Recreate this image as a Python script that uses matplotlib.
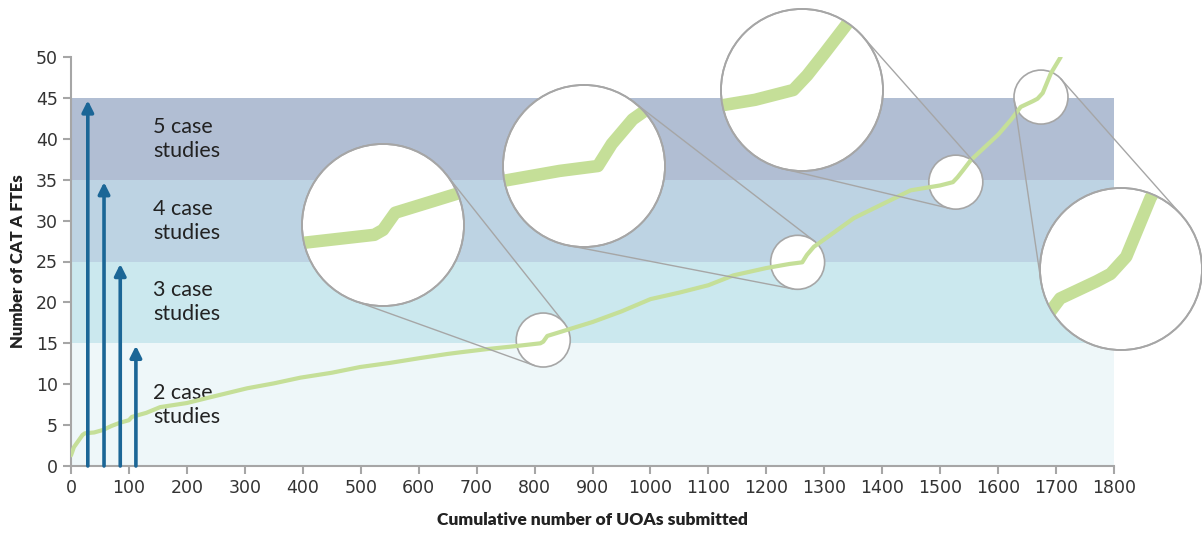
import numpy as np
import matplotlib.pyplot as plt
from matplotlib.patches import Circle, Ellipse

plt.rcParams['font.family'] = ['Lato', 'DejaVu Sans']

## the data
uoas = [0, 5, 12, 20, 24, 40, 55, 70, 85, 100, 105, 130, 154, 200, 240, 304, 350,
        396, 450, 499, 550, 603, 650, 672, 719, 760, 810, 815, 822, 845, 900, 950,
        1000, 1050, 1100, 1143, 1200, 1240, 1262, 1270, 1282, 1300, 1351, 1400,
        1449, 1500, 1522, 1530, 1540, 1553, 1600, 1622, 1639, 1660, 1668, 1677,
        1691, 1708]
ftes = [1.3, 2.3, 3.0, 3.8, 4.0, 4.1, 4.4, 4.9, 5.3, 5.6, 6.0, 6.5, 7.2, 7.7, 8.4,
        9.5, 10.1, 10.8, 11.4, 12.1, 12.6, 13.2, 13.7, 13.9, 14.3, 14.6, 15.0, 15.2,
        15.9, 16.4, 17.6, 18.9, 20.4, 21.2, 22.1, 23.3, 24.2, 24.7, 24.9, 25.8, 26.8,
        27.7, 30.3, 32.0, 33.7, 34.3, 34.7, 35.3, 36.2, 37.4, 40.5, 42.3, 43.9, 44.6,
        44.9, 45.6, 48.0, 50.0]

band_edges = [0, 15, 25, 35, 45]
band_labels = ['2 case\nstudies', '3 case\nstudies', '4 case\nstudies', '5 case\nstudies']
band_colors = ['#eef7f9', '#cbe8ee', '#bdd3e3', '#b1bed3']

arrow_x = [29, 57, 85, 112]
arrow_top = [44.7, 34.7, 24.7, 14.7]

# zoomed spots (data coords) and where the magnified view sits (figure pixels, from top)
zoom_spots = [(815, 15.4), (1254, 24.9), (1527, 34.7), (1674, 45.1)]
lens_pos = [(383, 225), (584, 166), (802, 90), (1121, 269)]
r_small, r_big = 27, 81

green = '#c5df98'
arrow_col = '#1b6696'
grey = '#a6a6a6'

W, H = 1202, 534
fig = plt.figure(figsize=(W / 100, H / 100), dpi=100)
ax = fig.add_axes([71 / W, (H - 466) / H, (1114 - 71) / W, (466 - 57) / H])

for i in range(4):
    ax.axhspan(band_edges[i], band_edges[i + 1], color=band_colors[i], lw=0, zorder=0)
    ax.text(142, (band_edges[i] + band_edges[i + 1]) / 2, band_labels[i],
            fontsize=15.5, color='#222222', va='center', ha='left', linespacing=1.25, zorder=1)

ax.set_xlim(0, 1800)
ax.set_ylim(0, 50)
ax.set_xticks(np.arange(0, 1801, 100))
ax.set_yticks(np.arange(0, 51, 5))
for s in ['top', 'right']:
    ax.spines[s].set_visible(False)
for s in ['left', 'bottom']:
    ax.spines[s].set_color(grey)
    ax.spines[s].set_linewidth(1.5)
ax.tick_params(colors=grey, labelcolor='#333333', labelsize=12.5, width=1.5, length=6)
for lab in ax.get_xticklabels() + ax.get_yticklabels():
    lab.set_family('DejaVu Sans')
ax.set_xlabel('Cumulative number of UOAs submitted', fontsize=12.5, fontweight='heavy',
              color='#222222', labelpad=11)
ax.set_ylabel('Number of CAT A FTEs', fontsize=12, fontweight='heavy', color='#222222',
              labelpad=7)

for xa, ya in zip(arrow_x, arrow_top):
    ax.annotate('', xy=(xa, ya), xytext=(xa, 0),
                arrowprops=dict(arrowstyle='-|>', color=arrow_col, lw=2.6,
                                mutation_scale=17, shrinkA=0, shrinkB=0), zorder=4)

ax.plot(uoas, ftes, color=green, lw=3, zorder=3, solid_capstyle='round')

# small lens circles in data coords (ellipse so they look round)
p0 = ax.transData.transform((0, 0))
p1 = ax.transData.transform((1, 1))
sx, sy = p1 - p0
for cx, cy in zoom_spots:
    ax.add_patch(Ellipse((cx, cy), 2 * r_small / sx, 2 * r_small / sy,
                         facecolor='white', edgecolor=grey, lw=1.2, zorder=2))

# overlay in figure pixels for the magnified views
ov = fig.add_axes([0, 0, 1, 1], zorder=5)
ov.set_xlim(0, W)
ov.set_ylim(H, 0)
ov.axis('off')

to_ov = lambda pts: ov.transData.inverted().transform(ax.transData.transform(pts))
curve_px = to_ov(np.column_stack([uoas, ftes]))

for (cx, cy), (bx, by) in zip(zoom_spots, lens_pos):
    c1 = to_ov([(cx, cy)])[0]
    c2 = np.array([bx, by], float)
    d = np.linalg.norm(c2 - c1)
    u = (c2 - c1) / d
    v = np.array([-u[1], u[0]])
    ct = (r_big - r_small) / d
    st = np.sqrt(1 - ct ** 2)
    for sgn in (1, -1):
        n = ct * u + sgn * st * v
        t1 = c1 - r_small * n
        t2 = c2 - r_big * n
        ov.plot([t1[0], t2[0]], [t1[1], t2[1]], color=grey, lw=1, zorder=1)
    lens = Circle((bx, by), r_big, facecolor='white', edgecolor=grey, lw=1.3, zorder=2)
    ov.add_patch(lens)
    mag = c2 + 3 * (curve_px - c1)
    ln, = ov.plot(mag[:, 0], mag[:, 1], color=green, lw=9, zorder=3)
    ln.set_clip_path(lens)
    ov.add_patch(Circle((bx, by), r_big, facecolor='none', edgecolor=grey, lw=1.3, zorder=4))

fig.savefig('out.png', dpi=100)
